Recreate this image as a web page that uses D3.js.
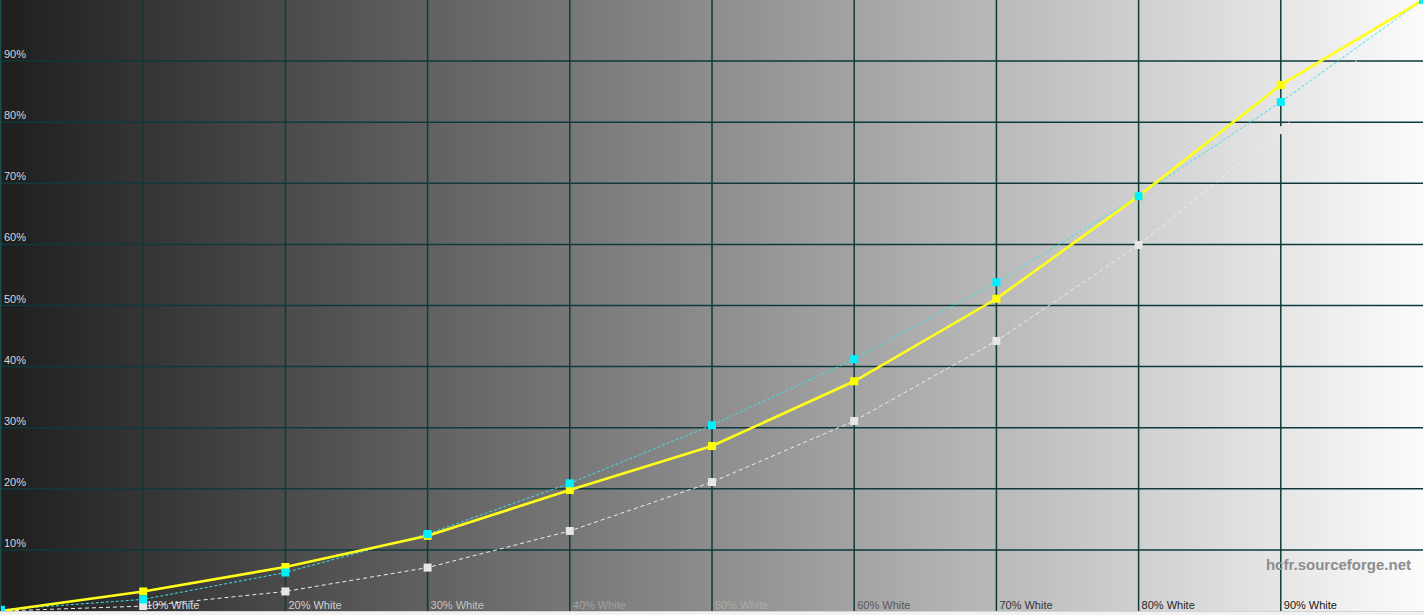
<!DOCTYPE html>
<html>
<head>
<meta charset="utf-8">
<script src="https://cdn.jsdelivr.net/npm/d3@7"></script>
<style>
  html, body { margin: 0; padding: 0; background: #f2f2f2; overflow: hidden; }
  svg { display: block; }
  text { font-family: Arial, "Liberation Sans", sans-serif; }
</style>
</head>
<body>
<svg id="chart" width="1424" height="615"></svg>
<script>
// stimulus levels (x) and measured / reference luminance (y, %)
const levels = [0, 10, 20, 30, 40, 50, 60, 70, 80, 90, 100];
const luminance = [0, 3.2, 7.2, 12.3, 19.8, 27.0, 37.6, 51.1, 67.9, 86.1, 100];
const luminanceRef = [0.2, 1.9, 6.3, 12.6, 20.9, 30.4, 41.2, 53.8, 67.9, 83.3, 100];
const grayRef = [0, 0.8, 3.2, 7.1, 13.1, 21.1, 31.1, 44.2, 59.9, 78.7, 100];
const yTicks = [10, 20, 30, 40, 50, 60, 70, 80, 90];
const xTicks = [10, 20, 30, 40, 50, 60, 70, 80, 90];
const xTickLabels = xTicks.map(d => d + "% White");

const svg = d3.select("#chart");
const width = 1424;
const plotBottom = 611;

const x = d3.scaleLinear().domain([0, 100]).range([1, 1423]);
const y = d3.scaleLinear().domain([0, 100]).range([plotBottom, 0]);

// label colour follows the background so it stays readable
const labelColor = d3.scaleLinear()
  .domain([10, 30, 40, 50, 60, 70, 90])
  .range(["#dcdcdc", "#c4c4c4", "#a2a2a2", "#ababab", "#595959", "#363636", "#151515"]);

const defs = svg.append("defs");
const grad = defs.append("linearGradient")
  .attr("id", "bg")
  .attr("x1", 0).attr("x2", 1).attr("y1", 0).attr("y2", 0);
grad.append("stop").attr("offset", "0%").attr("stop-color", "#1e1e1e");
grad.append("stop").attr("offset", "100%").attr("stop-color", "#fcfcfc");

defs.append("clipPath").attr("id", "plotClip")
  .append("rect")
  .attr("x", x(0)).attr("y", 0)
  .attr("width", x(100) - x(0)).attr("height", plotBottom);

// background
svg.append("rect")
  .attr("x", 0).attr("y", 0)
  .attr("width", width).attr("height", plotBottom)
  .attr("fill", "url(#bg)");

// bottom border strip
svg.append("line")
  .attr("x1", 0).attr("x2", width)
  .attr("y1", plotBottom + 0.5).attr("y2", plotBottom + 0.5)
  .attr("stroke", "#d4d4d4");

// grid
const grid = svg.append("g");
grid.selectAll("line.v")
  .data(xTicks)
  .join("line")
  .attr("class", "v")
  .attr("x1", d => x(d)).attr("x2", d => x(d))
  .attr("y1", 0).attr("y2", plotBottom)
  .attr("stroke", "#0f3a3a")
  .attr("stroke-width", 1.5);
grid.selectAll("line.h")
  .data(yTicks)
  .join("line")
  .attr("class", "h")
  .attr("x1", 0).attr("x2", x(100))
  .attr("y1", d => y(d)).attr("y2", d => y(d))
  .attr("stroke", "#0f3a3a")
  .attr("stroke-width", 1.5);
grid.append("line")
  .attr("x1", 0.75).attr("x2", 0.75)
  .attr("y1", 0).attr("y2", plotBottom)
  .attr("stroke", "#1d4a4a")
  .attr("stroke-width", 1.5);

// axis labels
svg.append("g").selectAll("text")
  .data(yTicks)
  .join("text")
  .attr("x", 4)
  .attr("y", d => y(d) - 3)
  .attr("font-size", 11)
  .attr("fill", "#d6d6d6")
  .text(d => d + "%");

svg.append("g").selectAll("text")
  .data(xTicks)
  .join("text")
  .attr("x", d => x(d) + 3)
  .attr("y", 609)
  .attr("font-size", 11)
  .attr("fill", d => labelColor(d))
  .text((d, i) => xTickLabels[i]);

svg.append("text")
  .attr("x", 1411)
  .attr("y", 570)
  .attr("text-anchor", "end")
  .attr("font-size", 15)
  .attr("font-weight", "bold")
  .attr("fill", "#8d8d8d")
  .text("hcfr.sourceforge.net");

// series
const plot = svg.append("g").attr("clip-path", "url(#plotClip)");
const line = d3.line().x((d, i) => x(levels[i])).y(d => y(d));
const ms = 8;

function drawMarkers(values, color) {
  plot.append("g").selectAll("rect")
    .data(values)
    .join("rect")
    .attr("x", (d, i) => x(levels[i]) - ms / 2)
    .attr("y", d => y(d) - ms / 2)
    .attr("width", ms).attr("height", ms)
    .attr("fill", color);
}

plot.append("path")
  .datum(grayRef)
  .attr("d", line)
  .attr("fill", "none")
  .attr("stroke", "#eeeeee")
  .attr("stroke-width", 1)
  .attr("stroke-dasharray", "4,3");
drawMarkers(grayRef, "#e6e6e6");

plot.append("path")
  .datum(luminanceRef)
  .attr("d", line)
  .attr("fill", "none")
  .attr("stroke", "#3ee0e8")
  .attr("stroke-width", 1)
  .attr("stroke-dasharray", "3,2");

plot.append("path")
  .datum(luminance)
  .attr("d", line)
  .attr("fill", "none")
  .attr("stroke", "#ffff1a")
  .attr("stroke-width", 2.6);
drawMarkers(luminance, "#ffff00");

drawMarkers(luminanceRef, "#00f0ff");
</script>
</body>
</html>
